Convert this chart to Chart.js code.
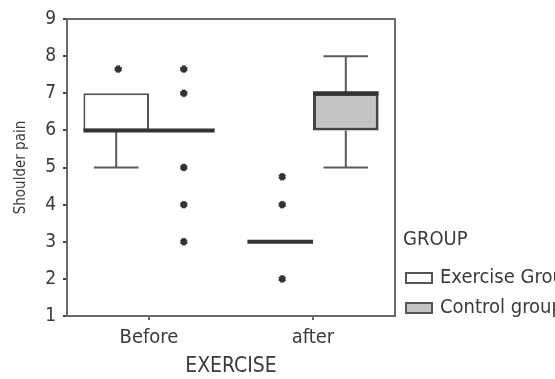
<!DOCTYPE html>
<html>
<head>
<meta charset="utf-8" />
<script src="https://cdn.jsdelivr.net/npm/chart.js@4/dist/chart.umd.min.js"></script>
<style>
  html, body { margin: 0; padding: 0; background: #fff; }
  #wrap { width: 555px; height: 379px; }
</style>
</head>
<body>
<div id="wrap"><canvas id="canvas"></canvas></div>
<script>
  // categories and groups
  var categories = ["Before", "after"];
  var groupTitle = "GROUP";
  var seriesNames = ["Exercise Group", "Control group"];

  // exercise group box stats (per category)
  var exerciseMin = [5, 3];
  var exerciseQ1 = [6, 3];
  var exerciseMedian = [6, 3];
  var exerciseQ3 = [7, 3];
  var exerciseMax = [7, 3];
  var exerciseOutliers = [[7.65], [4.75, 4, 2]];

  // control group box stats
  var controlMin = [6, 5];
  var controlQ1 = [6, 6];
  var controlMedian = [6, 7];
  var controlQ3 = [6, 7];
  var controlMax = [6, 8];
  var controlOutliers = [[7.65, 7, 5, 4, 3], []];

  var yTicks = [1, 2, 3, 4, 5, 6, 7, 8, 9];

  var FONT = "'Liberation Sans Narrow', 'DejaVu Sans Condensed', Arial, sans-serif";
  var TEXT = "#3a3a3a";
  var AXIS = "#6a6a6a";

  function boxes(q1, q3) {
    return q1.map(function (v, i) { return [v, q3[i]]; });
  }

  var stats = [
    { min: exerciseMin, med: exerciseMedian, max: exerciseMax, q1: exerciseQ1, q3: exerciseQ3, out: exerciseOutliers },
    { min: controlMin, med: controlMedian, max: controlMax, q1: controlQ1, q3: controlQ3, out: controlOutliers },
  ];

  var boxPlugin = {
    id: "boxParts",
    beforeDatasetsDraw: function (chart) {
      var ctx = chart.ctx;
      var y = chart.scales.y;
      ctx.save();
      // whiskers
      stats.forEach(function (s, di) {
        var meta = chart.getDatasetMeta(di);
        meta.data.forEach(function (bar, j) {
          var cap = bar.width * 0.34;
          ctx.strokeStyle = "#5a5a5a";
          ctx.lineWidth = 2;
          ctx.beginPath();
          if (s.max[j] > s.q3[j]) {
            ctx.moveTo(bar.x, y.getPixelForValue(s.q3[j]));
            ctx.lineTo(bar.x, y.getPixelForValue(s.max[j]));
            ctx.moveTo(bar.x - cap, y.getPixelForValue(s.max[j]));
            ctx.lineTo(bar.x + cap, y.getPixelForValue(s.max[j]));
          }
          if (s.min[j] < s.q1[j]) {
            ctx.moveTo(bar.x, y.getPixelForValue(s.q1[j]));
            ctx.lineTo(bar.x, y.getPixelForValue(s.min[j]));
            ctx.moveTo(bar.x - cap, y.getPixelForValue(s.min[j]));
            ctx.lineTo(bar.x + cap, y.getPixelForValue(s.min[j]));
          }
          ctx.stroke();
        });
      });
      ctx.restore();
    },
    afterDatasetsDraw: function (chart) {
      var ctx = chart.ctx;
      var y = chart.scales.y;
      var area = chart.chartArea;
      ctx.save();
      // frame top and right
      ctx.strokeStyle = AXIS;
      ctx.lineWidth = 2;
      ctx.beginPath();
      ctx.moveTo(area.left, area.top);
      ctx.lineTo(area.right, area.top);
      ctx.lineTo(area.right, area.bottom);
      ctx.stroke();

      stats.forEach(function (s, di) {
        var meta = chart.getDatasetMeta(di);
        meta.data.forEach(function (bar, j) {
          var half = bar.width / 2;
          // median
          ctx.strokeStyle = "#333";
          ctx.lineWidth = 4;
          ctx.beginPath();
          ctx.moveTo(bar.x - half, y.getPixelForValue(s.med[j]));
          ctx.lineTo(bar.x + half, y.getPixelForValue(s.med[j]));
          ctx.stroke();
          // outliers
          s.out[j].forEach(function (v) {
            Chart.helpers.drawPoint(ctx, {
              pointStyle: "star", radius: 3.5, borderWidth: 1.5,
            }, bar.x + 2, y.getPixelForValue(v));
          });
        });
      });
      ctx.restore();
    },
    afterDraw: function (chart) {
      var ctx = chart.ctx;
      var area = chart.chartArea;
      var x0 = area.right + 10;
      ctx.save();
      ctx.fillStyle = TEXT;
      ctx.font = "20px " + FONT;
      ctx.textBaseline = "middle";
      ctx.fillText(groupTitle, x0 - 2, 240);
      var rows = [278, 308];
      chart.data.datasets.forEach(function (ds, i) {
        ctx.fillStyle = ds.backgroundColor;
        ctx.strokeStyle = "#555";
        ctx.lineWidth = 2;
        ctx.fillRect(x0 + 1, rows[i] - 5, 26, 10);
        ctx.strokeRect(x0 + 1, rows[i] - 5, 26, 10);
        ctx.fillStyle = TEXT;
        ctx.fillText(ds.label, x0 + 35, rows[i]);
      });
      ctx.restore();
    },
  };

  new Chart(document.getElementById("canvas"), {
    type: "bar",
    data: {
      labels: categories,
      datasets: [
        {
          label: seriesNames[0],
          data: boxes(exerciseQ1, exerciseQ3),
          backgroundColor: "#ffffff",
          borderColor: "#555",
          borderWidth: 2,
          borderSkipped: false,
        },
        {
          label: seriesNames[1],
          data: boxes(controlQ1, controlQ3),
          backgroundColor: "#c4c4c4",
          borderColor: "#444",
          borderWidth: 3,
          borderSkipped: false,
        },
      ],
    },
    options: {
      responsive: true,
      maintainAspectRatio: false,
      animation: false,
      layout: { padding: { left: 0, top: 19, right: 160, bottom: 0 } },
      categoryPercentage: 0.8,
      barPercentage: 1.0,
      plugins: {
        legend: { display: false },
        tooltip: { enabled: false },
      },
      scales: {
        x: {
          offset: true,
          grid: { offset: false, drawOnChartArea: false, drawTicks: true, tickLength: 4, color: AXIS, lineWidth: 2 },
          border: { color: AXIS, width: 2 },
          ticks: { color: TEXT, padding: 6, font: { family: FONT, size: 20 } },
          title: { display: true, text: "EXERCISE", color: TEXT, padding: { top: 0, bottom: 0 }, font: { family: FONT, size: 21 } },
          afterFit: function (scale) { scale.height = 63; },
        },
        y: {
          min: yTicks[0],
          max: yTicks[yTicks.length - 1],
          afterBuildTicks: function (scale) {
            scale.ticks = yTicks.map(function (v) { return { value: v }; });
          },
          grid: { drawOnChartArea: false, drawTicks: true, tickLength: 4, color: "#444", lineWidth: 2 },
          border: { color: AXIS, width: 2 },
          ticks: { color: TEXT, padding: 7, font: { family: FONT, size: 19 } },
          title: { display: true, text: "Shoulder pain", color: TEXT, padding: { top: 12, bottom: 0 }, font: { family: FONT, size: 15 } },
          afterFit: function (scale) { scale.width = 67; },
        },
      },
    },
    plugins: [boxPlugin],
  });
</script>
</body>
</html>
